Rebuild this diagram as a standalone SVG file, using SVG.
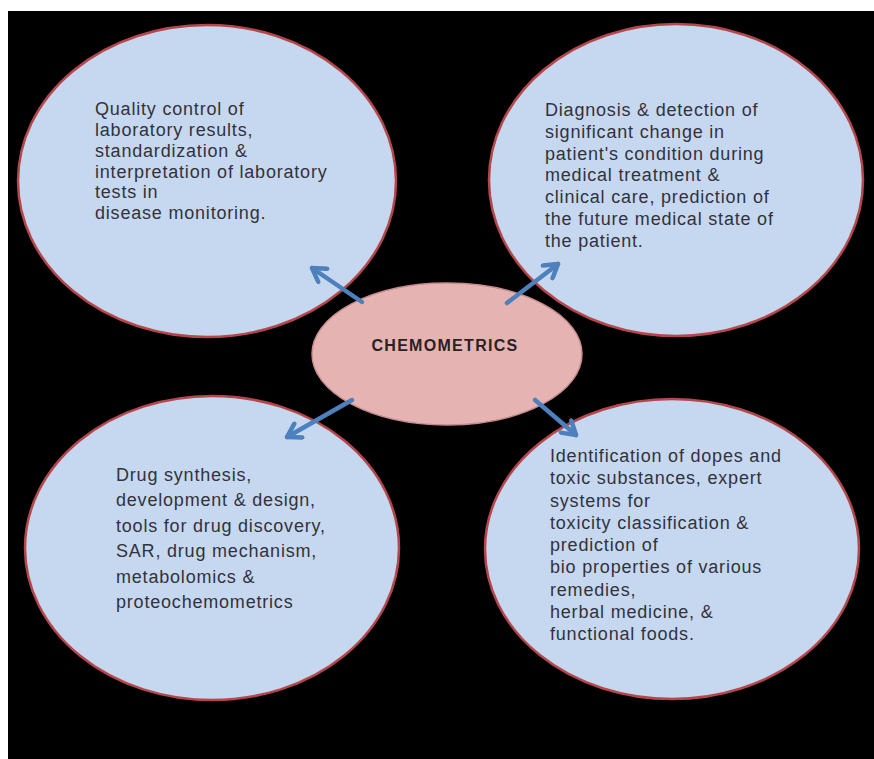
<svg xmlns="http://www.w3.org/2000/svg" width="874" height="759" viewBox="0 0 874 759">
  <style>
    .bubble { fill: #c6d8ef; stroke: #b5474c; stroke-width: 2.5; }
    .hub { fill: #e6b3b3; stroke: #c98c8c; stroke-width: 1.5; }
    .txt { font-family: "Liberation Sans", Arial, sans-serif; font-size: 18px; fill: #32323c; letter-spacing: 0.8px; }
    .hubtxt { font-family: "Liberation Sans", Arial, sans-serif; font-size: 16px; font-weight: bold; fill: #2a2222; letter-spacing: 1.3px; }
    .arrow { stroke: #4d80bd; stroke-width: 4.5; fill: none; stroke-linecap: round; marker-end: url(#vhead); }
  </style>
  <defs>
    <marker id="vhead" viewBox="0 0 20 20" refX="17" refY="10" markerWidth="20" markerHeight="20" markerUnits="userSpaceOnUse" orient="auto">
      <path d="M4,2 L17,10 L4,18" fill="none" stroke="#4d80bd" stroke-width="4.5" stroke-linecap="round" stroke-linejoin="round"/>
    </marker>
  </defs>

  <rect x="0" y="0" width="874" height="759" fill="#ffffff"/>
  <rect x="8" y="11" width="866" height="748" fill="#000000"/>

  <g id="quality-control">
    <ellipse class="bubble" cx="207" cy="181" rx="189" ry="156"/>
    <text class="txt">
      <tspan x="95" y="115">Quality control of</tspan>
      <tspan x="95" y="136">laboratory results,</tspan>
      <tspan x="95" y="157">standardization &amp;</tspan>
      <tspan x="95" y="178">interpretation of laboratory</tspan>
      <tspan x="95" y="198">tests in</tspan>
      <tspan x="95" y="219">disease monitoring.</tspan>
    </text>
  </g>

  <g id="diagnosis">
    <ellipse class="bubble" cx="676" cy="180" rx="187" ry="156"/>
    <text class="txt">
      <tspan x="545" y="116">Diagnosis &amp; detection of</tspan>
      <tspan x="545" y="138">significant change in</tspan>
      <tspan x="545" y="160">patient's condition during</tspan>
      <tspan x="545" y="181">medical treatment &amp;</tspan>
      <tspan x="545" y="203">clinical care, prediction of</tspan>
      <tspan x="545" y="225">the future medical state of</tspan>
      <tspan x="545" y="247">the patient.</tspan>
    </text>
  </g>

  <g id="drug-design">
    <ellipse class="bubble" cx="212" cy="548" rx="187" ry="152"/>
    <text class="txt">
      <tspan x="116" y="481">Drug synthesis,</tspan>
      <tspan x="116" y="506">development &amp; design,</tspan>
      <tspan x="116" y="532">tools for drug discovery,</tspan>
      <tspan x="116" y="557">SAR, drug mechanism,</tspan>
      <tspan x="116" y="583">metabolomics &amp;</tspan>
      <tspan x="116" y="608">proteochemometrics</tspan>
    </text>
  </g>

  <g id="toxicity">
    <ellipse class="bubble" cx="672" cy="549" rx="187" ry="150"/>
    <text class="txt">
      <tspan x="550" y="462">Identification of dopes and</tspan>
      <tspan x="550" y="484">toxic substances, expert</tspan>
      <tspan x="550" y="507">systems for</tspan>
      <tspan x="550" y="529">toxicity classification &amp;</tspan>
      <tspan x="550" y="551">prediction of</tspan>
      <tspan x="550" y="573">bio properties of various</tspan>
      <tspan x="550" y="596">remedies,</tspan>
      <tspan x="550" y="618">herbal medicine, &amp;</tspan>
      <tspan x="550" y="640">functional foods.</tspan>
    </text>
  </g>

  <g id="chemometrics">
    <ellipse class="hub" cx="447" cy="354" rx="135" ry="71"/>
    <text class="hubtxt" x="445" y="351" text-anchor="middle">CHEMOMETRICS</text>
  </g>

  <g id="connectors">
    <line class="arrow" x1="362" y1="302" x2="312" y2="268"/>
    <line class="arrow" x1="507" y1="303" x2="558" y2="264"/>
    <line class="arrow" x1="352" y1="400" x2="287" y2="437"/>
    <line class="arrow" x1="535" y1="400" x2="576" y2="435"/>
  </g>
</svg>
